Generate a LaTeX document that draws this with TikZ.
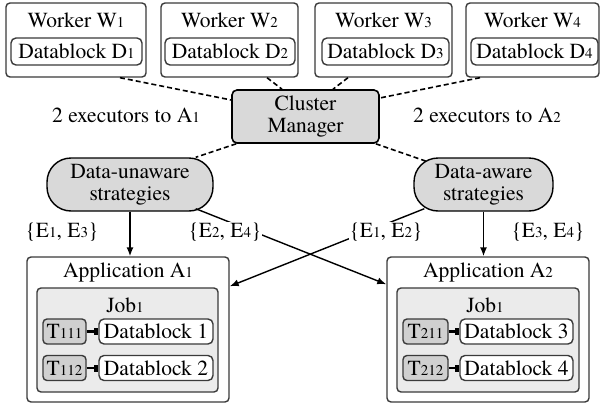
\documentclass[tikz,border=0pt]{standalone}
\usepackage{fontspec}
\setmainfont{texgyretermes-regular.otf}
\usetikzlibrary{arrows.meta,calc}
\newcommand{\ix}[1]{{\fontsize{15}{15}\selectfont #1}}
\definecolor{bordc}{HTML}{3A3A3A}
\definecolor{cmfill}{HTML}{D9D9D9}
\definecolor{jobfill}{HTML}{EBEBEB}
\definecolor{tfill}{HTML}{D0D0D0}
\begin{document}
\begin{tikzpicture}[x=1pt,y=-1pt,
  font=\fontsize{21.5}{23}\selectfont,
  box/.style={draw=bordc,line width=1.4pt,rounded corners=4pt,inner sep=0pt,fill=white},
  inbox/.style={draw=bordc,line width=1.4pt,rounded corners=5pt,inner sep=0pt,fill=white,minimum height=27pt},
  cmbox/.style={draw=black,line width=1.6pt,rounded corners=5pt,fill=cmfill,inner sep=0pt,align=center},
  strat/.style={draw=black,line width=1.4pt,rounded corners=24pt,fill=cmfill,inner sep=0pt,align=center,minimum height=53pt},
  jobbox/.style={draw=bordc,line width=1.4pt,rounded corners=4pt,fill=jobfill,inner sep=0pt},
  tbox/.style={draw=bordc,line width=1.4pt,rounded corners=4pt,fill=tfill,inner sep=0pt,minimum height=25pt},
  lbl/.style={inner sep=1pt},
  dsh/.style={line width=1.6pt,dash pattern=on 5pt off 3pt},
  arr/.style={line width=1.4pt,-{Latex[length=9pt,width=7pt]}},
  link/.style={line width=2.6pt,-{Square[length=4.5pt,width=7pt]}}]
\useasboundingbox (0,0) rectangle (600,407);
% workers
\node[box,minimum width=140pt,minimum height=74pt] (w1) at (76,40) {};
\node[box,minimum width=137pt,minimum height=74pt] (w2) at (229.5,40) {};
\node[box,minimum width=137pt,minimum height=74pt] (w3) at (383.5,40) {};
\node[box,minimum width=133pt,minimum height=74pt] (w4) at (532.5,40) {};
\node (w1t) at (76,20) {Worker W\ix{1}};
\node (w2t) at (229.5,20) {Worker W\ix{2}};
\node (w3t) at (383.5,20) {Worker W\ix{3}};
\node (w4t) at (532.5,20) {Worker W\ix{4}};
\node[inbox,minimum width=131pt] (d1) at (76.5,51.5) {Datablock D\ix{1}};
\node[inbox,minimum width=130pt] (d2) at (230,51.5) {Datablock D\ix{2}};
\node[inbox,minimum width=127pt] (d3) at (385.5,51.5) {Datablock D\ix{3}};
\node[inbox,minimum width=127pt] (d4) at (534.5,51.5) {Datablock D\ix{4}};
% cluster manager
\node[cmbox,minimum width=147pt,minimum height=53pt] (cm) at (305.5,116.5) {Cluster\\[-1pt]Manager};
\node[lbl] (e1) at (126,115) {2 executors to A\ix{1}};
\node[lbl] (e2) at (487,115) {2 executors to A\ix{2}};
% strategies
\node[strat,minimum width=166pt] (su) at (130,184.5) {Data-unaware\\[-1pt]strategies};
\node[strat,minimum width=139pt] (sa) at (483.5,184.5) {Data-aware\\[-1pt]strategies};
% dashed links
\draw[dsh] ([xshift=44pt]w1.south) -- ([yshift=16.5pt]cm.west);
\draw[dsh] ([xshift=37.5pt]w2.south) -- ([xshift=-23.5pt]cm.north);
\draw[dsh] ([xshift=-35.5pt]w3.south) -- ([xshift=27.5pt]cm.north);
\draw[dsh] ([xshift=-52.5pt]w4.south) -- ([yshift=18.5pt]cm.east);
\draw[dsh] ([xshift=5pt]cm.south west) -- ([xshift=-18pt]su.north east);
\draw[dsh] ([xshift=-4pt]cm.south east) -- ([xshift=13pt,yshift=-4pt]sa.north west);
% applications
\node[box,minimum width=202pt,minimum height=145pt] (a1) at (128,329.5) {};
\node[box,minimum width=202pt,minimum height=145pt] (a2) at (488,329.5) {};
\node (a1t) at (128,272) {Application A\ix{1}};
\node (a2t) at (488,272) {Application A\ix{2}};
\node[jobbox,minimum width=181pt,minimum height=104pt] (j1) at (127.5,340) {};
\node[jobbox,minimum width=182pt,minimum height=104pt] (j2) at (488,340) {};
\node (j1t) at (125,305) {Job\ix{1}};
\node (j2t) at (485,305) {Job\ix{1}};
\node[tbox,minimum width=43pt] (t111) at (64.5,331.5) {T\ix{111}};
\node[tbox,minimum width=43pt] (t112) at (64.5,368) {T\ix{112}};
\node[tbox,minimum width=45pt] (t211) at (425.5,331.5) {T\ix{211}};
\node[tbox,minimum width=45pt] (t212) at (425.5,368) {T\ix{212}};
\node[inbox,minimum width=114pt,minimum height=25pt] (b1) at (156,331.5) {Datablock 1};
\node[inbox,minimum width=114pt,minimum height=25pt] (b2) at (156,368) {Datablock 2};
\node[inbox,minimum width=113pt,minimum height=25pt] (b3) at (516.5,331.5) {Datablock 3};
\node[inbox,minimum width=113pt,minimum height=25pt] (b4) at (516.5,368) {Datablock 4};
\draw[link] (t111) -- (b1);
\draw[link] (t112) -- (b2);
\draw[link] (t211) -- (b3);
\draw[link] (t212) -- (b4);
% arrows
\draw[arr] (su.south) -- (su.south |- a1.north);
\draw[arr] (sa.south) -- (sa.south |- a2.north);
\draw[arr] ([xshift=-18pt,yshift=3pt]su.south east) -- ([yshift=-28pt]a2.north west);
\draw[arr] ([xshift=11pt,yshift=3pt]sa.south west) -- ([yshift=-30pt]a1.north east);
% labels
\node[lbl] (l1) at (62,232) {\{E\ix{1}, E\ix{3}\}};
\node[lbl,fill=white] (l2) at (225,232) {\{E\ix{2}, E\ix{4}\}};
\node[lbl,fill=white] (l3) at (386,232) {\{E\ix{1}, E\ix{2}\}};
\node[lbl] (l4) at (548,232) {\{E\ix{3}, E\ix{4}\}};
\end{tikzpicture}
\end{document}
